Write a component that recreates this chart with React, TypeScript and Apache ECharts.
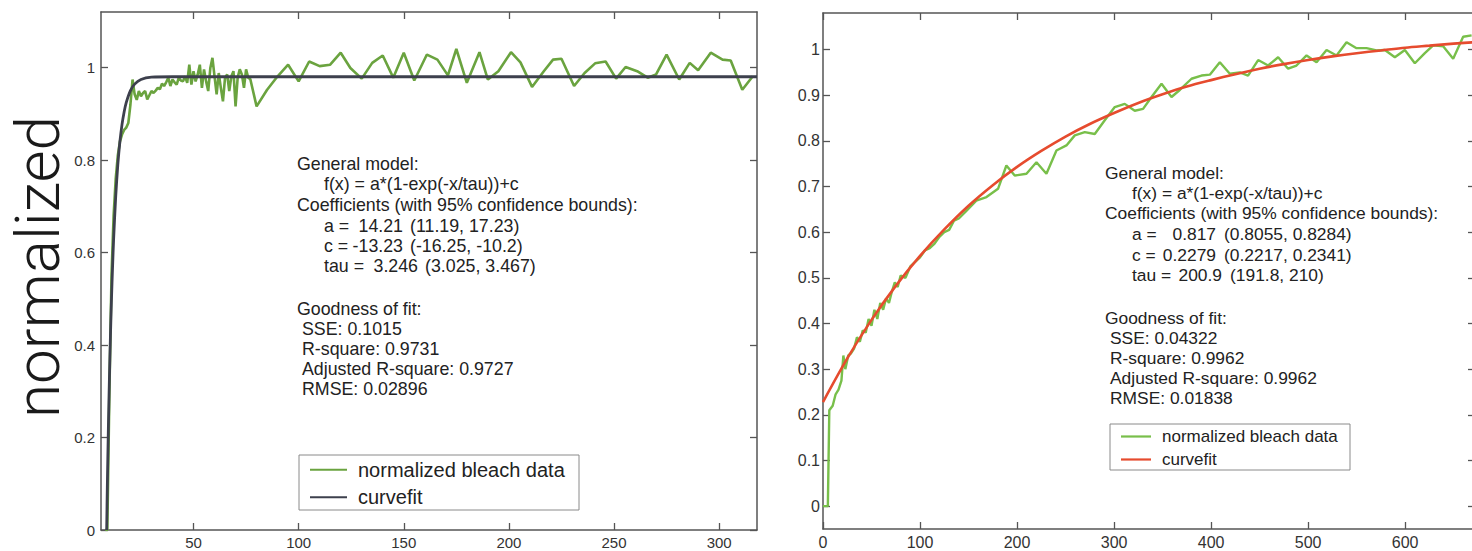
import React, { useEffect, useRef } from 'react';
import * as echarts from 'echarts';

// ---------- data ----------
const leftDataX = [8, 9, 10, 11, 12, 13, 14, 15, 16, 17, 18, 19, 20, 21, 22, 23, 24, 25, 26, 27, 28, 29, 30, 31, 32, 33, 34, 35, 36, 37, 38, 39, 40, 41, 42, 43, 44, 45, 46, 47, 48, 49, 50, 51, 52, 53, 54, 55, 56, 57, 58, 59, 60, 61, 62, 63, 64, 65, 66, 67, 68, 69, 70, 71, 72, 73, 74, 75, 76, 77, 80, 85, 90, 95, 100, 105, 110, 115, 120, 124.6, 130, 135, 140, 145, 150, 155, 161, 166, 171, 175, 180, 186, 190, 195, 201, 205.5, 211, 216.6, 221, 225, 231, 236, 241, 246, 251, 255.5, 261, 266, 270, 275, 281, 286, 290, 296, 301.6, 305.5, 311, 316];
const leftDataY = [0, 0, 0.3, 0.55, 0.68, 0.76, 0.81, 0.84, 0.855, 0.865, 0.87, 0.88, 0.92, 0.974, 0.942, 0.93, 0.949, 0.938, 0.945, 0.949, 0.931, 0.94, 0.949, 0.945, 0.95, 0.956, 0.953, 0.965, 0.96, 0.968, 0.978, 0.96, 0.974, 0.968, 0.963, 0.978, 0.972, 0.97, 0.981, 0.967, 1.006, 0.963, 0.992, 0.97, 0.985, 1.006, 0.956, 0.996, 0.97, 0.949, 0.999, 1.021, 0.981, 0.942, 0.988, 0.956, 0.927, 0.978, 0.985, 0.949, 0.981, 0.992, 0.916, 0.978, 0.996, 0.985, 0.956, 0.996, 0.978, 0.975, 0.916, 0.952, 0.981, 1.006, 0.97, 1.013, 1.003, 1.006, 1.032, 0.999, 0.976, 1.01, 1.026, 0.978, 1.032, 0.972, 1.028, 1.017, 0.983, 1.04, 0.967, 1.033, 0.974, 0.992, 1.033, 1.011, 0.958, 0.992, 1.017, 1.019, 0.96, 0.988, 1.009, 1.013, 0.976, 1.001, 0.992, 0.978, 0.985, 1.028, 0.974, 1.01, 0.994, 1.032, 1.017, 1.015, 0.952, 0.981];
const leftFitX = [8.7, 9, 9.5, 10, 10.5, 11, 11.5, 12, 13, 14, 15, 16, 17, 18, 20, 22, 25, 30, 40, 318];
const leftFitY = [0, 0.092, 0.219, 0.327, 0.421, 0.501, 0.569, 0.628, 0.721, 0.79, 0.84, 0.877, 0.904, 0.924, 0.95, 0.964, 0.974, 0.979, 0.98, 0.98];

const rightDataX = [0, 5, 6.5, 10, 13, 16, 19, 21, 23, 26, 29, 32, 35, 38, 41, 44, 47, 50, 53, 56, 59, 62, 65, 68, 71, 74, 77, 80, 85, 90, 95, 100, 105, 110, 115, 120, 125, 130, 135, 140, 147, 158, 168.5, 180.4, 189, 197.6, 209.7, 220, 230.3, 240.6, 250.9, 259.5, 269.8, 280.1, 290.4, 300.7, 311, 321.3, 329.9, 338.6, 348.9, 359.2, 368, 379.8, 390.1, 398.7, 409, 419.3, 429.6, 438.1, 448.5, 458.8, 469.1, 479.4, 488, 498.4, 508.7, 519, 529.3, 539.6, 549.9, 560.2, 570.5, 579.1, 589.4, 599.7, 610, 620.3, 628.9, 639.2, 649.5, 659.8, 668.5];
const rightDataY = [0, 0, 0.21, 0.22, 0.245, 0.255, 0.275, 0.33, 0.3, 0.33, 0.335, 0.345, 0.37, 0.36, 0.385, 0.38, 0.41, 0.395, 0.43, 0.41, 0.445, 0.43, 0.455, 0.445, 0.47, 0.49, 0.48, 0.505, 0.5, 0.525, 0.535, 0.545, 0.56, 0.565, 0.575, 0.59, 0.6, 0.605, 0.625, 0.63, 0.645, 0.669, 0.677, 0.695, 0.746, 0.724, 0.728, 0.753, 0.728, 0.779, 0.79, 0.812, 0.819, 0.815, 0.845, 0.874, 0.881, 0.866, 0.87, 0.896, 0.925, 0.896, 0.912, 0.936, 0.943, 0.945, 0.972, 0.947, 0.95, 0.943, 0.977, 0.965, 0.983, 0.958, 0.965, 0.987, 0.972, 0.999, 0.987, 1.016, 1.003, 1.003, 0.998, 0.999, 0.983, 0.999, 0.97, 0.992, 1.009, 1.007, 0.98, 1.028, 1.031];
const rightFitX = [0, 25, 50, 75, 100, 125, 150, 175, 200, 225, 250, 275, 300, 325, 350, 375, 400, 425, 450, 475, 500, 525, 550, 575, 600, 625, 650, 675];
const rightFitY = [0.228, 0.3235, 0.408, 0.4825, 0.548, 0.606, 0.658, 0.703, 0.743, 0.778, 0.8095, 0.837, 0.861, 0.883, 0.902, 0.919, 0.933, 0.946, 0.958, 0.968, 0.977, 0.985, 0.992, 0.998, 1.004, 1.0085, 1.013, 1.0165];

const leftXTicks = [50, 100, 150, 200, 250, 300];
const leftYTicks = [0, 0.2, 0.4, 0.6, 0.8, 1];
const rightXTicks = [0, 100, 200, 300, 400, 500, 600];
const rightYTicks = [0, 0.1, 0.2, 0.3, 0.4, 0.5, 0.6, 0.7, 0.8, 0.9, 1];

const seriesNames = ['normalized bleach data', 'curvefit'];
const yTitle = 'normalized';

const modelTitle = 'General model:';
const modelFormula = 'f(x) = a*(1-exp(-x/tau))+c';
const coefTitle = 'Coefficients (with 95% confidence bounds):';
const gofTitle = 'Goodness of fit:';
const coefNames = ['a =', 'c =', 'tau ='];
const leftCoefValues = ['14.21', '-13.23', '3.246'];
const leftCoefBounds = ['(11.19, 17.23)', '(-16.25, -10.2)', '(3.025, 3.467)'];
const leftGof = ['SSE: 0.1015', 'R-square: 0.9731', 'Adjusted R-square: 0.9727', 'RMSE: 0.02896'];
const rightCoefValues = ['0.817', '0.2279', '200.9'];
const rightCoefBounds = ['(0.8055, 0.8284)', '(0.2217, 0.2341)', '(191.8, 210)'];
const rightGof = ['SSE: 0.04322', 'R-square: 0.9962', 'Adjusted R-square: 0.9962', 'RMSE: 0.01838'];

const GREEN_L = '#6aa33f';
const GREEN_R = '#78bf4a';
const DARK = '#3d404d';
const RED = '#e64b2e';
const AXIS = '#555555';
const FONT = 'Liberation Sans, Arial, Helvetica, sans-serif';

const pairs = (xs: number[], ys: number[]) => xs.map((x, i) => [x, ys[i]]);
const fmt = (v: number) => String(Math.round(v * 100) / 100);

function axis(gridIndex: number, position: string, min: number, max: number, ticks: number[], labels: boolean, margin: number, fontSize: number) {
  return {
    type: 'value',
    gridIndex,
    position,
    min,
    max,
    axisLine: { show: true, onZero: false, lineStyle: { color: AXIS, width: 1.5 } },
    axisTick: { show: true, inside: true, length: 7, customValues: ticks, lineStyle: { color: AXIS, width: 1.3 } },
    axisLabel: {
      show: labels,
      customValues: ticks,
      color: '#333',
      fontSize,
      fontFamily: FONT,
      margin,
      formatter: (v: number) => fmt(v),
    },
    splitLine: { show: false },
  };
}

function txt(text: string, x: number, y: number, fontSize: number, align = 'left') {
  return {
    type: 'text',
    x,
    y,
    silent: true,
    z: 5,
    style: { text, fontSize, fontFamily: FONT, fill: '#222', align, verticalAlign: 'middle', textAlign: align, textVerticalAlign: 'middle' },
  };
}

function annotation(x0: number, ys: number[], vals: string[], bounds: string[], valRight: number[], bndX: number[], gof: string[], fs: number) {
  const ind = x0 + 27;
  const out: any[] = [];
  out.push(txt(modelTitle, x0, ys[0], fs));
  out.push(txt(modelFormula, ind, ys[1], fs));
  out.push(txt(coefTitle, x0, ys[2], fs));
  for (let i = 0; i < 3; i++) {
    out.push(txt(coefNames[i], ind, ys[3 + i], fs));
    out.push(txt(vals[i], valRight[i], ys[3 + i], fs, 'right'));
    out.push(txt(bounds[i], bndX[i], ys[3 + i], fs));
  }
  out.push(txt(gofTitle, x0, ys[6], fs));
  for (let i = 0; i < 4; i++) out.push(txt(gof[i], x0 + 5, ys[7 + i], fs));
  return out;
}

function legendBox(x: number, y: number, w: number, h: number, colors: string[], fs: number, lineLen: number) {
  const out: any[] = [];
  out.push({ type: 'rect', shape: { x, y, width: w, height: h }, style: { fill: '#fff', stroke: '#8a8a8a', lineWidth: 1 }, z: 10 });
  const rowH = h / 2;
  for (let i = 0; i < 2; i++) {
    const cy = y + rowH * (i + 0.5) + 1;
    out.push({ type: 'line', shape: { x1: x + 11, y1: cy, x2: x + 11 + lineLen, y2: cy }, style: { stroke: colors[i], lineWidth: 2.2 }, z: 11 });
    const t: any = txt(seriesNames[i], x + 22 + lineLen, cy, fs);
    t.z = 11;
    out.push(t);
  }
  return out;
}

export default function App() {
  const ref = useRef<HTMLDivElement>(null);
  useEffect(() => {
    if (!ref.current) return;
    const chart = echarts.init(ref.current, undefined, { renderer: 'svg' });
    const option: any = {
      animation: false,
      backgroundColor: '#ffffff',
      grid: [
        { left: 101, top: 12, width: 656, height: 518, containLabel: false, outerBoundsMode: 'none' },
        { left: 823, top: 13, width: 652, height: 516, containLabel: false, outerBoundsMode: 'none' },
      ],
      xAxis: [
        axis(0, 'bottom', 6, 318, leftXTicks, true, 5, 15),
        axis(0, 'top', 6, 318, leftXTicks, false, 8, 15),
        axis(1, 'bottom', 0, 672, rightXTicks, true, 5, 16),
        axis(1, 'top', 0, 672, rightXTicks, false, 8, 16),
      ],
      yAxis: [
        axis(0, 'left', 0, 1.12, leftYTicks, true, 6, 15),
        axis(0, 'right', 0, 1.12, leftYTicks, false, 8, 15),
        axis(1, 'left', -0.05, 1.08, rightYTicks, true, 3, 16),
        axis(1, 'right', -0.05, 1.08, rightYTicks, false, 8, 16),
      ],
      series: [
        { name: seriesNames[0], type: 'line', xAxisIndex: 0, yAxisIndex: 0, data: pairs(leftDataX, leftDataY), symbol: 'none', showSymbol: false, clip: true, lineStyle: { color: GREEN_L, width: 2.6 }, itemStyle: { color: GREEN_L } },
        { name: seriesNames[1], type: 'line', xAxisIndex: 0, yAxisIndex: 0, data: pairs(leftFitX, leftFitY), symbol: 'none', showSymbol: false, clip: true, smooth: 0.3, lineStyle: { color: DARK, width: 2.8 }, itemStyle: { color: DARK } },
        { name: seriesNames[0], type: 'line', xAxisIndex: 2, yAxisIndex: 2, data: pairs(rightDataX, rightDataY), symbol: 'none', showSymbol: false, clip: true, lineStyle: { color: GREEN_R, width: 2.4 }, itemStyle: { color: GREEN_R } },
        { name: seriesNames[1], type: 'line', xAxisIndex: 2, yAxisIndex: 2, data: pairs(rightFitX, rightFitY), symbol: 'none', showSymbol: false, clip: true, smooth: 0.3, lineStyle: { color: RED, width: 2.6 }, itemStyle: { color: RED } },
      ],
      graphic: [
        {
          type: 'text',
          x: 37,
          y: 267,
          rotation: Math.PI / 2,
          silent: true,
          style: { text: yTitle, fontSize: 62, lineHeight: 62, fontWeight: 300, fontFamily: 'Roboto, Lato, sans-serif', fill: '#1a1a1a', align: 'center', verticalAlign: 'middle', textAlign: 'center', textVerticalAlign: 'middle' },
        },
        ...annotation(297, [164, 184, 205, 226, 246, 266, 309, 329, 349, 369, 389], leftCoefValues, leftCoefBounds, [403, 403, 418], [410, 410, 425], leftGof, 17.8),
        ...annotation(1105, [173, 193, 213, 234, 255, 275, 318, 338, 358, 378, 398], rightCoefValues, rightCoefBounds, [1216, 1216, 1222], [1224, 1224, 1230], rightGof, 17.4),
        ...legendBox(299, 455, 280, 55, [GREEN_L, DARK], 20, 37),
        ...legendBox(1110, 424, 240, 46, [GREEN_R, RED], 17, 30),
      ],
    };
    chart.setOption(option);
    return () => chart.dispose();
  }, []);
  return <div ref={ref} style={{ position: 'fixed', left: 0, top: 0, width: 1472, height: 551, background: '#fff' }} />;
}
